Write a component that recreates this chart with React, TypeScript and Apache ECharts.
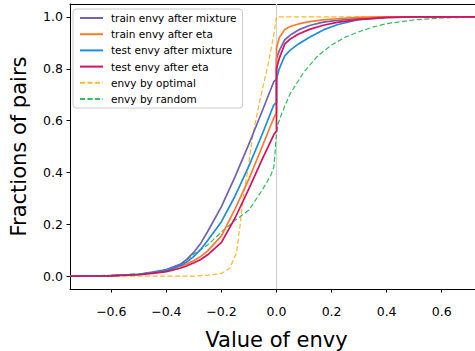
import React, { useEffect, useRef } from "react";
import * as echarts from "echarts";

// ---- data ----
const envyX = [-0.75, -0.6, -0.5, -0.45, -0.4, -0.35, -0.325, -0.3, -0.275, -0.25, -0.2, -0.15, -0.1, -0.05, -0.01, 0, 0, 0.01, 0.03, 0.05, 0.08, 0.12, 0.17, 0.22, 0.3, 0.4, 0.5, 0.6, 0.75];
const trainMixture = [0, 0.002, 0.007, 0.015, 0.025, 0.045, 0.065, 0.092, 0.127, 0.172, 0.268, 0.385, 0.51, 0.642, 0.75, 0.76, 0.84, 0.87, 0.912, 0.93, 0.95, 0.967, 0.98, 0.987, 0.995, 0.999, 1, 1, 1];
const trainEta = [0, 0.002, 0.006, 0.012, 0.02, 0.037, 0.047, 0.06, 0.076, 0.097, 0.155, 0.26, 0.375, 0.505, 0.61, 0.63, 0.88, 0.92, 0.952, 0.963, 0.973, 0.982, 0.989, 0.993, 0.998, 1, 1, 1, 1];
const testMixture = [0, 0.002, 0.007, 0.013, 0.022, 0.04, 0.055, 0.076, 0.103, 0.137, 0.21, 0.31, 0.425, 0.552, 0.66, 0.67, 0.76, 0.8, 0.85, 0.872, 0.896, 0.922, 0.95, 0.97, 0.99, 0.997, 1, 1, 1];
const testEta = [0, 0.001, 0.005, 0.01, 0.017, 0.03, 0.04, 0.051, 0.064, 0.082, 0.13, 0.225, 0.337, 0.455, 0.545, 0.56, 0.8, 0.84, 0.895, 0.915, 0.934, 0.952, 0.968, 0.979, 0.991, 0.998, 1, 1, 1];

const optimalX = [-0.75, -0.3, -0.25, -0.2, -0.17, -0.145, -0.133, -0.12, -0.103, -0.085, -0.06, -0.03, -0.01, 0, 0.75];
const optimalY = [0, 0, 0.003, 0.01, 0.03, 0.09, 0.19, 0.31, 0.42, 0.55, 0.68, 0.82, 0.93, 1.0, 1.0];

const randomX = [-0.75, -0.6, -0.5, -0.4, -0.35, -0.3, -0.25, -0.2, -0.15, -0.1, -0.05, -0.02, -0.01, -0.005, 0, 0.005, 0.02, 0.05, 0.1, 0.15, 0.2, 0.25, 0.3, 0.35, 0.4, 0.5, 0.6, 0.75];
const randomY = [0, 0.003, 0.008, 0.02, 0.04, 0.085, 0.12, 0.17, 0.215, 0.255, 0.335, 0.39, 0.42, 0.48, 0.55, 0.585, 0.63, 0.705, 0.788, 0.85, 0.892, 0.922, 0.943, 0.961, 0.974, 0.989, 0.996, 1.0];

const xTicks = [-0.6, -0.4, -0.2, 0, 0.2, 0.4, 0.6];
const yTicks = [0, 0.2, 0.4, 0.6, 0.8, 1.0];
const zeroLineY = [-0.05, 1.05];

const seriesNames = [
  "train envy after mixture",
  "train envy after eta",
  "test envy after mixture",
  "test envy after eta",
  "envy by optimal",
  "envy by random",
];
const colors = ["#6d62b6", "#ff7b27", "#1a8ee0", "#db0f5b", "#ffb829", "#2fbf5f"];

const FONT = "DejaVu Sans";
const fmt = (v: number) => (v < 0 ? "\u2212" : "") + Math.abs(v).toFixed(1);

export default function App() {
  const ref = useRef<HTMLDivElement>(null);
  useEffect(() => {
    if (!ref.current) return;
    const chart = echarts.init(ref.current, undefined, { renderer: "svg" });
    const pair = (xs: number[], ys: number[]) => xs.map((x, i) => [x, ys[i]]);
    const solid = [trainMixture, trainEta, testMixture, testEta];
    const series: any[] = [
      {
        name: "zero",
        type: "line",
        data: zeroLineY.map((y) => [0, y]),
        symbol: "none",
        silent: true,
        z: 1,
        lineStyle: { color: "#d4d4d4", width: 1.3 },
      },
    ];
    solid.forEach((ys, i) => {
      series.push({
        name: seriesNames[i],
        type: "line",
        data: pair(envyX, ys),
        symbol: "none",
        z: 3,
        color: colors[i],
        lineStyle: { color: colors[i], width: 1.7, join: "round" },
      });
    });
    series.push({
      name: seriesNames[4],
      type: "line",
      data: pair(optimalX, optimalY),
      symbol: "none",
      z: 2,
      color: colors[4],
      lineStyle: { color: colors[4], width: 1.2, type: [5, 2.5] },
    });
    series.push({
      name: seriesNames[5],
      type: "line",
      data: pair(randomX, randomY),
      symbol: "none",
      z: 2,
      color: colors[5],
      lineStyle: { color: colors[5], width: 1.2, type: [5, 2.5] },
    });

    chart.setOption({
      animation: false,
      textStyle: { fontFamily: FONT },
      grid: { left: 70, right: 7, top: 4, bottom: 62, outerBoundsMode: "none", containLabel: false },
      legend: {
        data: seriesNames,
        orient: "vertical",
        left: 73,
        top: 9,
        padding: [3, 6, 3, 6],
        itemWidth: 23,
        itemHeight: 8,
        itemGap: 4.2,
        itemStyle: { opacity: 0 },
        borderColor: "#cccccc",
        borderWidth: 1,
        borderRadius: 3,
        backgroundColor: "rgba(255,255,255,0.8)",
        textStyle: { fontFamily: FONT, fontSize: 10.5, color: "#000", lineHeight: 12, padding: [0, 0, 0, 3] },
      },
      xAxis: [
        {
          type: "value",
          min: -0.75,
          max: 0.75,
          splitLine: { show: false },
          axisLine: { show: true, onZero: false, lineStyle: { color: "#000", width: 1 } },
          axisTick: { show: true, length: 3.5, customValues: xTicks, lineStyle: { color: "#000" } },
          axisLabel: { customValues: xTicks, formatter: fmt, fontSize: 12.5, color: "#000", margin: 16, fontFamily: FONT },
          name: "Value of envy",
          nameLocation: "middle",
          nameGap: 40,
          nameTextStyle: { fontSize: 21, color: "#000", fontFamily: FONT },
        },
        {
          type: "value",
          position: "top",
          min: -0.75,
          max: 0.75,
          splitLine: { show: false },
          axisLine: { show: true, onZero: false, lineStyle: { color: "#000", width: 1 } },
          axisTick: { show: false },
          axisLabel: { show: false },
        },
      ],
      yAxis: {
        type: "value",
        min: -0.05,
        max: 1.05,
        splitLine: { show: false },
        axisLine: { show: true, onZero: false, lineStyle: { color: "#000", width: 1 } },
        axisTick: { show: true, length: 3.5, customValues: yTicks, lineStyle: { color: "#000" } },
        axisLabel: { customValues: yTicks, formatter: fmt, fontSize: 12.5, color: "#000", margin: 7, fontFamily: FONT },
        name: "Fractions of pairs",
        nameLocation: "middle",
        nameGap: 40.5,
        nameTextStyle: { fontSize: 21, color: "#000", fontFamily: FONT },
      },
      series,
    });
    return () => chart.dispose();
  }, []);
  return (
    <div style={{ position: "fixed", left: 0, top: 0, width: 475, height: 351, overflow: "hidden", background: "#fff" }}>
      <div ref={ref} style={{ width: 490, height: 351 }} />
    </div>
  );
}
